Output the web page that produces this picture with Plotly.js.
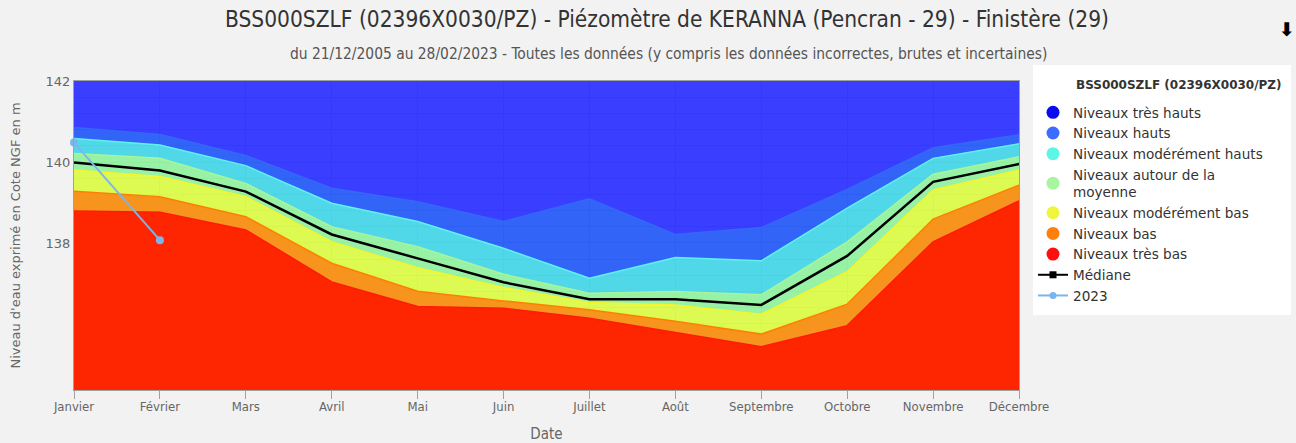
<!DOCTYPE html>
<html>
<head>
<meta charset="utf-8">
<script src="https://cdn.plot.ly/plotly-3.0.1.min.js"></script>
<style>
  html, body { margin: 0; padding: 0; background: #f2f2f2; }
  #chart { width: 1296px; height: 443px; }
</style>
</head>
<body>
<div id="chart"></div>
<script>
// ---- Data ----
const months = ['Janvier','Février','Mars','Avril','Mai','Juin','Juillet','Août','Septembre','Octobre','Novembre','Décembre'];

// Upper bounds of each band (m NGF)
const limTresHauts = [142, 142, 142, 142, 142, 142, 142, 142, 142, 142, 142, 142];
const limHauts     = [140.85, 140.68, 140.16, 139.35, 139.02, 138.53, 139.09, 138.21, 138.38, 139.32, 140.35, 140.67];
const limModHauts  = [140.58, 140.42, 139.91, 138.98, 138.53, 137.87, 137.13, 137.64, 137.56, 138.86, 140.09, 140.45];
const limMoyenne   = [140.21, 140.09, 139.47, 138.40, 137.91, 137.23, 136.76, 136.80, 136.72, 138.03, 139.70, 140.13];
const limModBas    = [139.80, 139.64, 139.14, 138.03, 137.39, 136.90, 136.53, 136.47, 136.24, 137.29, 139.31, 139.80];
const limBas       = [139.28, 139.14, 138.65, 137.50, 136.81, 136.57, 136.35, 136.07, 135.75, 136.49, 138.59, 139.43];
const limTresBas   = [138.79, 138.76, 138.32, 137.04, 136.43, 136.39, 136.14, 135.79, 135.44, 135.96, 138.03, 139.04];
const mediane      = [139.99, 139.79, 139.27, 138.21, 137.62, 137.03, 136.61, 136.61, 136.47, 137.68, 139.51, 139.95];
const months2023   = ['Janvier','Février'];
const values2023   = [140.48, 138.07];

const legendTitle = 'BSS000SZLF (02396X0030/PZ)';
const bandNames = ['Niveaux très hauts','Niveaux hauts','Niveaux modérément hauts','Niveaux autour de la<br>moyenne','Niveaux modérément bas','Niveaux bas','Niveaux très bas'];

// ---- Styles ----
const legendColors = ['#0a0af0','#3d6bff','#5ef5e6','#a8f5a0','#eef53c','#ff7f0e','#ff1010'];
const fillColors = ['rgba(36,41,255,0.9)','rgba(29,83,247,0.9)','rgba(61,212,229,0.9)','rgba(141,241,155,0.9)','rgba(216,249,63,0.9)','#f7941e','#fe2600'];
const edgeColors = ['#3a3eff','#3566fa','#5ff2f0','#a6f59c','#f4f52a','#ff8000','#ff1a00'];

const bands = [limTresHauts, limHauts, limModHauts, limMoyenne, limModBas, limBas, limTresBas];

const traces = [];
for (let i = bands.length - 1; i >= 0; i--) {
  traces.push({
    x: months, y: bands[i], type: 'scatter', mode: 'lines',
    fill: (i === bands.length - 1) ? 'tozeroy' : 'tonexty',
    fillcolor: fillColors[i],
    line: { color: edgeColors[i], width: (i === 0 ? 0 : 1.5) },
    showlegend: false, hoverinfo: 'skip'
  });
}
traces.push({
  x: months, y: mediane, type: 'scatter', mode: 'lines',
  line: { color: '#000000', width: 2.5 }, showlegend: false
});
traces.push({
  x: months2023, y: values2023, type: 'scatter', mode: 'lines+markers',
  line: { color: '#7cb5ec', width: 2 }, marker: { color: '#7cb5ec', size: 8 },
  cliponaxis: false, showlegend: false
});
bandNames.forEach((n, i) => {
  traces.push({
    x: [null], y: [null], type: 'scatter', mode: 'markers', name: n,
    marker: { color: legendColors[i], size: 13, symbol: 'circle' }
  });
});
traces.push({ x: [null], y: [null], type: 'scatter', mode: 'lines+markers', name: 'Médiane',
  line: { color: '#000', width: 2 }, marker: { color: '#000', size: 7, symbol: 'square' } });
traces.push({ x: [null], y: [null], type: 'scatter', mode: 'lines+markers', name: '2023',
  line: { color: '#7cb5ec', width: 2 }, marker: { color: '#7cb5ec', size: 7, symbol: 'circle' } });

const narrow = '"Liberation Sans Narrow", "DejaVu Sans Condensed", "Arial Narrow", sans-serif';
const sans = '"DejaVu Sans", "Lucida Grande", sans-serif';

// pixel -> paper helpers (plot area: x 74..1019, y 81..390)
const px = v => (v - 74) / 945;
const py = v => (390 - v) / 309;

const layout = {
  width: 1296, height: 443,
  paper_bgcolor: '#f2f2f2', plot_bgcolor: '#ffffff',
  margin: { l: 74, r: 277, t: 81, b: 53 },
  title: {
    text: 'BSS000SZLF (02396X0030/PZ) - Piézomètre de KERANNA (Pencran - 29) - Finistère (29)',
    font: { family: narrow, size: 22.5, color: '#333333' },
    x: 667 / 1296, xref: 'container', xanchor: 'center',
    y: 1 - 19 / 443, yref: 'container', yanchor: 'middle'
  },
  shapes: [
    { type: 'rect', xref: 'paper', yref: 'paper', x0: px(1033), x1: px(1291), y0: py(315), y1: py(65),
      fillcolor: '#ffffff', line: { width: 0 }, layer: 'below' }
  ],
  annotations: [
    { text: 'du 21/12/2005 au 28/02/2023 - Toutes les données (y compris les données incorrectes, brutes et incertaines)',
      xref: 'paper', yref: 'paper', x: px(668), y: py(54),
      xanchor: 'center', yanchor: 'middle', showarrow: false,
      font: { family: narrow, size: 15.4, color: '#555555' } },
    { text: '<b>⬇</b>', xref: 'paper', yref: 'paper', x: px(1287), y: py(29),
      xanchor: 'center', yanchor: 'middle', showarrow: false,
      font: { family: sans, size: 19, color: '#000' } },
    { text: '<b>' + legendTitle + '</b>', xref: 'paper', yref: 'paper', x: px(1284), y: py(85),
      xanchor: 'right', yanchor: 'middle', showarrow: false,
      font: { family: sans, size: 12, color: '#333333' } }
  ],
  xaxis: {
    type: 'category', range: [0, 11],
    showgrid: true, gridcolor: '#c8c8c8', gridwidth: 1,
    ticks: 'outside', ticklen: 8, tickcolor: '#a0a0a0',
    ticklabelstandoff: -4,
    showline: true, linecolor: '#a0a0a0', linewidth: 1, mirror: true,
    tickfont: { family: narrow, size: 13, color: '#666666' },
    title: { text: 'Date', font: { family: narrow, size: 15, color: '#666666' }, standoff: 18 },
    zeroline: false, fixedrange: true
  },
  yaxis: {
    range: [134.37, 142], tickvals: [138, 140, 142], ticktext: ['138','140','142'],
    showgrid: true, gridcolor: '#c8c8c8', gridwidth: 1,
    minor: { dtick: 0.4, showgrid: true, gridcolor: '#c8c8c8', gridwidth: 1 },
    ticks: '', showline: true, linecolor: '#a0a0a0', linewidth: 1, mirror: true,
    tickfont: { family: sans, size: 13, color: '#666666' },
    title: { text: "Niveau d'eau exprimé en Cote NGF en m", font: { family: sans, size: 13, color: '#666666' }, standoff: 22 },
    zeroline: false, fixedrange: true
  },
  legend: {
    x: px(1033), xanchor: 'left', y: py(97), yanchor: 'top',
    bgcolor: 'rgba(255,255,255,0)', borderwidth: 0,
    font: { family: sans, size: 13.6, color: '#333333' },
    traceorder: 'normal', itemwidth: 30, tracegroupgap: 0
  },
  showlegend: true
};

Plotly.newPlot('chart', traces, layout, { displayModeBar: false, staticPlot: true });
</script>
</body>
</html>
